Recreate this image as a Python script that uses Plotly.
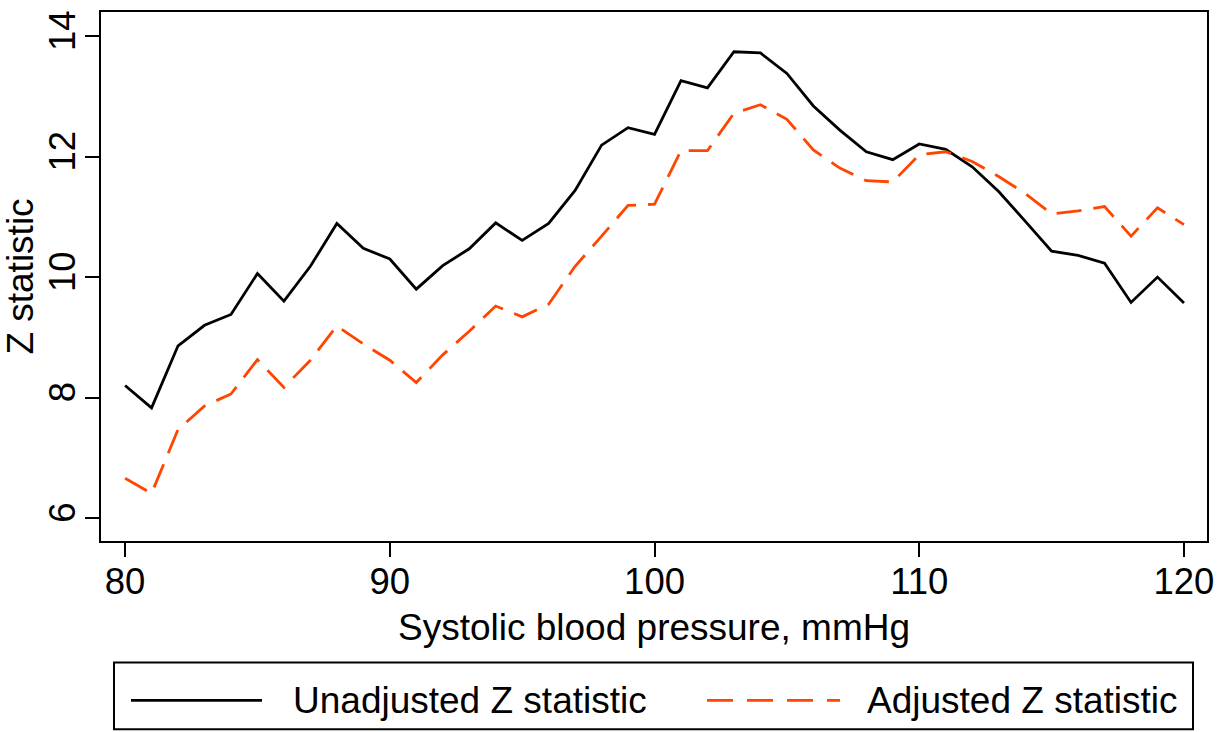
import plotly.graph_objects as go

sbp = [80, 81, 82, 83, 84, 85, 86, 87, 88, 89, 90, 91, 92, 93, 94, 95, 96, 97, 98, 99, 100,
       101, 102, 103, 104, 105, 106, 107, 108, 109, 110, 111, 112, 113, 114, 115, 116, 117, 118, 119, 120]

unadjusted_z = [8.20, 7.83, 8.86, 9.20, 9.38, 10.06, 9.60, 10.18, 10.89, 10.48, 10.30, 9.80, 10.19, 10.47,
                10.90, 10.61, 10.89, 11.44, 12.19, 12.48, 12.37, 13.26, 13.14, 13.74, 13.72, 13.38, 12.84,
                12.44, 12.08, 11.95, 12.21, 12.12, 11.83, 11.42, 10.93, 10.43, 10.36, 10.23, 9.58, 10.00, 9.57]

adjusted_z = [6.66, 6.41, 7.47, 7.86, 8.06, 8.63, 8.17, 8.62, 9.19, 8.89, 8.62, 8.25, 8.71, 9.10,
              9.52, 9.34, 9.55, 10.18, 10.68, 11.19, 11.21, 12.10, 12.10, 12.72, 12.86, 12.62, 12.11,
              11.81, 11.60, 11.58, 12.03, 12.08, 11.92, 11.67, 11.39, 11.05, 11.10, 11.17, 10.68, 11.15, 10.87]

x_ticks = [80, 90, 100, 110, 120]
y_ticks = [6, 8, 10, 12, 14]

series_names = ["Unadjusted Z statistic", "Adjusted Z statistic"]
x_title = "Systolic blood pressure, mmHg"
y_title = "Z statistic"

BLACK = "#000000"
ORANGE = "#ff4500"
FONT = "Liberation Sans, Arial, Helvetica, sans-serif"
TICK_SIZE = 36.5
TITLE_SIZE = 37
LEGEND_SIZE = 37

fig = go.Figure()
fig.add_trace(go.Scatter(x=sbp, y=unadjusted_z, mode="lines", name=series_names[0],
                         line=dict(color=BLACK, width=2.8), showlegend=False))
fig.add_trace(go.Scatter(x=sbp, y=adjusted_z, mode="lines", name=series_names[1],
                         line=dict(color=ORANGE, width=2.8, dash="25px,12px"), showlegend=False))

axis_common = dict(
    showline=True, linecolor=BLACK, linewidth=2, mirror=True,
    ticks="outside", ticklen=14, tickwidth=2, tickcolor=BLACK,
    showgrid=False, zeroline=False,
    tickfont=dict(family=FONT, size=TICK_SIZE, color=BLACK),
)

fig.update_xaxes(range=[79.09, 120.87], tickvals=x_ticks, ticktext=[str(v) for v in x_ticks],
                 ticklabelstandoff=-7,
                 title=dict(text=x_title, font=dict(family=FONT, size=TITLE_SIZE, color=BLACK), standoff=13),
                 **axis_common)
fig.update_yaxes(range=[5.62, 14.40], tickvals=y_ticks, ticktext=[str(v) for v in y_ticks],
                 tickangle=-90, ticklabelstandoff=-5,
                 title=dict(text=y_title, font=dict(family=FONT, size=TITLE_SIZE, color=BLACK), standoff=2),
                 **axis_common)

# Legend box drawn below the plot (paper coordinates)
ly = -0.3013
shapes = [
    dict(type="rect", xref="paper", yref="paper", x0=0.01175, x1=0.98734, y0=-0.35593, y1=-0.22976,
         line=dict(color=BLACK, width=2), fillcolor="rgba(0,0,0,0)"),
    dict(type="line", xref="paper", yref="paper", x0=0.02712, x1=0.14557, y0=ly, y1=ly,
         line=dict(color=BLACK, width=2.8)),
    dict(type="line", xref="paper", yref="paper", x0=0.54792, x1=0.66817, y0=ly, y1=ly,
         line=dict(color=ORANGE, width=2.8, dash="26px,14px")),
]
annotations = [
    dict(text=series_names[0], xref="paper", yref="paper", x=0.17179, y=ly, xanchor="left",
         yanchor="middle", showarrow=False, font=dict(family=FONT, size=LEGEND_SIZE, color=BLACK)),
    dict(text=series_names[1], xref="paper", yref="paper", x=0.69078, y=ly, xanchor="left",
         yanchor="middle", showarrow=False, font=dict(family=FONT, size=LEGEND_SIZE, color=BLACK)),
]

fig.update_layout(
    width=1231, height=732,
    margin=dict(l=101, r=24, t=10, b=191),
    paper_bgcolor="white", plot_bgcolor="white",
    font=dict(family=FONT, color=BLACK),
    shapes=shapes, annotations=annotations,
    showlegend=False,
)

fig.write_html("out.html", config={"displayModeBar": False},
               post_script="document.body.style.margin='0';document.body.style.padding='0';"
                           "document.body.style.overflow='hidden';")
